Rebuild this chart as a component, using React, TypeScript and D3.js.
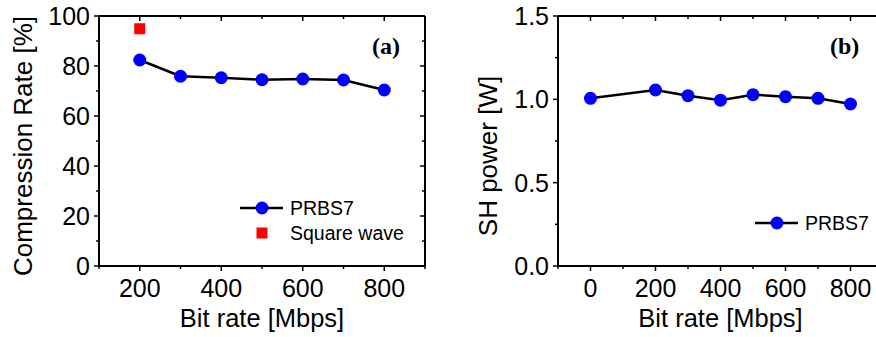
import React from "react";
import * as d3 from "d3";

const bitRateA = [200, 300, 400, 500, 600, 700, 800];
const compressionPRBS7 = [82.4, 75.9, 75.3, 74.5, 74.8, 74.4, 70.4];
const squareBitRate = [200];
const compressionSquare = [94.9];

const bitRateB = [0, 200, 300, 400, 500, 600, 700, 800];
const shPowerPRBS7 = [1.006, 1.056, 1.022, 0.995, 1.028, 1.016, 1.006, 0.972];

const xTicksA = [200, 400, 600, 800];
const xMinorA = [100, 300, 500, 700, 900];
const yTicksA = [0, 20, 40, 60, 80, 100];
const yMinorA = [10, 30, 50, 70, 90];

const xTicksB = [0, 200, 400, 600, 800];
const xMinorB = [-100, 100, 300, 500, 700, 900];
const yTicksB = [0, 0.5, 1.0, 1.5];
const yMinorB = [0.25, 0.75, 1.25];

const SANS = "'Liberation Sans', Arial, sans-serif";
const SERIF = "'Liberation Serif', 'Times New Roman', serif";
const BLUE = "#0000ff";
const RED = "#ff0000";

type PanelProps = {
  x: d3.ScaleLinear<number, number>;
  y: d3.ScaleLinear<number, number>;
  xTicks: number[];
  xMinor: number[];
  yTicks: number[];
  yMinor: number[];
  yFmt: (v: number) => string;
  yTitle: string;
  yTitleX: number;
  yTitleY: number;
  label: string;
  labelX: number;
  children?: React.ReactNode;
};

function Panel(p: PanelProps) {
  const [x0, x1] = p.x.range();
  const [y0, y1] = p.y.range(); // y0 bottom, y1 top
  const MAJ = 5;
  const MIN = 3;
  const sw = 2;
  return (
    <g>
      {/* frame */}
      <line x1={x0} x2={x1} y1={y0} y2={y0} stroke="#000" strokeWidth={sw} />
      <line x1={x0} x2={x1} y1={y1} y2={y1} stroke="#000" strokeWidth={sw} />
      <line x1={x0} x2={x0} y1={y0} y2={y1} stroke="#000" strokeWidth={sw} />
      <line x1={x1} x2={x1} y1={y0} y2={y1} stroke="#000" strokeWidth={sw} />
      {/* x ticks */}
      {p.xTicks.map((t) => (
        <g key={"xt" + t}>
          <line x1={p.x(t)} x2={p.x(t)} y1={y0} y2={y0 + MAJ} stroke="#000" strokeWidth={1.5} />
          <line x1={p.x(t)} x2={p.x(t)} y1={y1} y2={y1 + MAJ} stroke="#000" strokeWidth={1.5} />
          <text x={p.x(t)} y={y0 + 31} textAnchor="middle" fontFamily={SANS} fontSize={25} fill="#000">
            {t}
          </text>
        </g>
      ))}
      {p.xMinor.map((t) => (
        <g key={"xm" + t}>
          <line x1={p.x(t)} x2={p.x(t)} y1={y0} y2={y0 + MIN} stroke="#000" strokeWidth={1.5} />
          <line x1={p.x(t)} x2={p.x(t)} y1={y1} y2={y1 + MIN} stroke="#000" strokeWidth={1.5} />
        </g>
      ))}
      {/* y ticks */}
      {p.yTicks.map((t) => (
        <g key={"yt" + t}>
          <line x1={x0} x2={x0 - MAJ} y1={p.y(t)} y2={p.y(t)} stroke="#000" strokeWidth={1.5} />
          <line x1={x1} x2={x1 - MAJ} y1={p.y(t)} y2={p.y(t)} stroke="#000" strokeWidth={1.5} />
          <text x={x0 - 9} y={p.y(t) + 9} textAnchor="end" fontFamily={SANS} fontSize={25} fill="#000">
            {p.yFmt(t)}
          </text>
        </g>
      ))}
      {p.yMinor.map((t) => (
        <g key={"ym" + t}>
          <line x1={x0} x2={x0 - MIN} y1={p.y(t)} y2={p.y(t)} stroke="#000" strokeWidth={1.5} />
          <line x1={x1} x2={x1 - MIN} y1={p.y(t)} y2={p.y(t)} stroke="#000" strokeWidth={1.5} />
        </g>
      ))}
      {/* titles */}
      <text
        x={(x0 + x1) / 2}
        y={327}
        textAnchor="middle"
        fontFamily={SANS}
        fontSize={25.5}
        fill="#000"
      >
        Bit rate [Mbps]
      </text>
      <text
        transform={`translate(${p.yTitleX},${p.yTitleY}) rotate(-90)`}
        textAnchor="middle"
        fontFamily={SANS}
        fontSize={26}
        fill="#000"
      >
        {p.yTitle}
      </text>
      <text x={p.labelX} y={54} fontFamily={SERIF} fontWeight="bold" fontSize={24} fill="#000">
        {p.label}
      </text>
      {p.children}
    </g>
  );
}

export default function App() {
  const xA = d3.scaleLinear().domain([100, 900]).range([99, 425]);
  const yA = d3.scaleLinear().domain([0, 100]).range([266, 16]);
  const xB = d3.scaleLinear().domain([-100, 900]).range([558, 883]);
  const yB = d3.scaleLinear().domain([0, 1.5]).range([266, 16]);

  const lineA = d3
    .line<number>()
    .x((_, i) => xA(bitRateA[i]))
    .y((d) => yA(d));
  const lineB = d3
    .line<number>()
    .x((_, i) => xB(bitRateB[i]))
    .y((d) => yB(d));

  const R = 6.5;
  const SQ = 11;

  return (
    <svg
      width={876}
      height={337}
      style={{ position: "absolute", left: 0, top: 0, background: "#fff" }}
    >
      <rect width={876} height={337} fill="#fff" />
      <Panel
        x={xA}
        y={yA}
        xTicks={xTicksA}
        xMinor={xMinorA}
        yTicks={yTicksA}
        yMinor={yMinorA}
        yFmt={(v) => String(v)}
        yTitle="Compression Rate [%]"
        yTitleX={32}
        yTitleY={146}
        label="(a)"
        labelX={372}
      >
        <path d={lineA(compressionPRBS7) || ""} fill="none" stroke="#000" strokeWidth={2.5} />
        {compressionPRBS7.map((v, i) => (
          <circle key={i} cx={xA(bitRateA[i])} cy={yA(v)} r={R} fill={BLUE} />
        ))}
        {compressionSquare.map((v, i) => (
          <rect
            key={i}
            x={xA(squareBitRate[i]) - SQ / 2}
            y={yA(v) - SQ / 2}
            width={SQ}
            height={SQ}
            fill={RED}
          />
        ))}
        {/* legend */}
        <line x1={240} x2={283} y1={208} y2={208} stroke="#000" strokeWidth={2.5} />
        <circle cx={262} cy={208} r={R} fill={BLUE} />
        <text x={290} y={215} fontFamily={SANS} fontSize={19.5} fill="#000">
          PRBS7
        </text>
        <rect x={262 - SQ / 2} y={233 - SQ / 2} width={SQ} height={SQ} fill={RED} />
        <text x={290} y={240} fontFamily={SANS} fontSize={19.5} fill="#000">
          Square wave
        </text>
      </Panel>
      <Panel
        x={xB}
        y={yB}
        xTicks={xTicksB}
        xMinor={xMinorB}
        yTicks={yTicksB}
        yMinor={yMinorB}
        yFmt={(v) => v.toFixed(1)}
        yTitle="SH power [W]"
        yTitleX={497}
        yTitleY={156}
        label="(b)"
        labelX={830}
      >
        <path d={lineB(shPowerPRBS7) || ""} fill="none" stroke="#000" strokeWidth={2.5} />
        {shPowerPRBS7.map((v, i) => (
          <circle key={i} cx={xB(bitRateB[i])} cy={yB(v)} r={R} fill={BLUE} />
        ))}
        <line x1={755} x2={798} y1={223} y2={223} stroke="#000" strokeWidth={2.5} />
        <circle cx={777} cy={223} r={R} fill={BLUE} />
        <text x={805} y={230} fontFamily={SANS} fontSize={19.5} fill="#000">
          PRBS7
        </text>
      </Panel>
    </svg>
  );
}
